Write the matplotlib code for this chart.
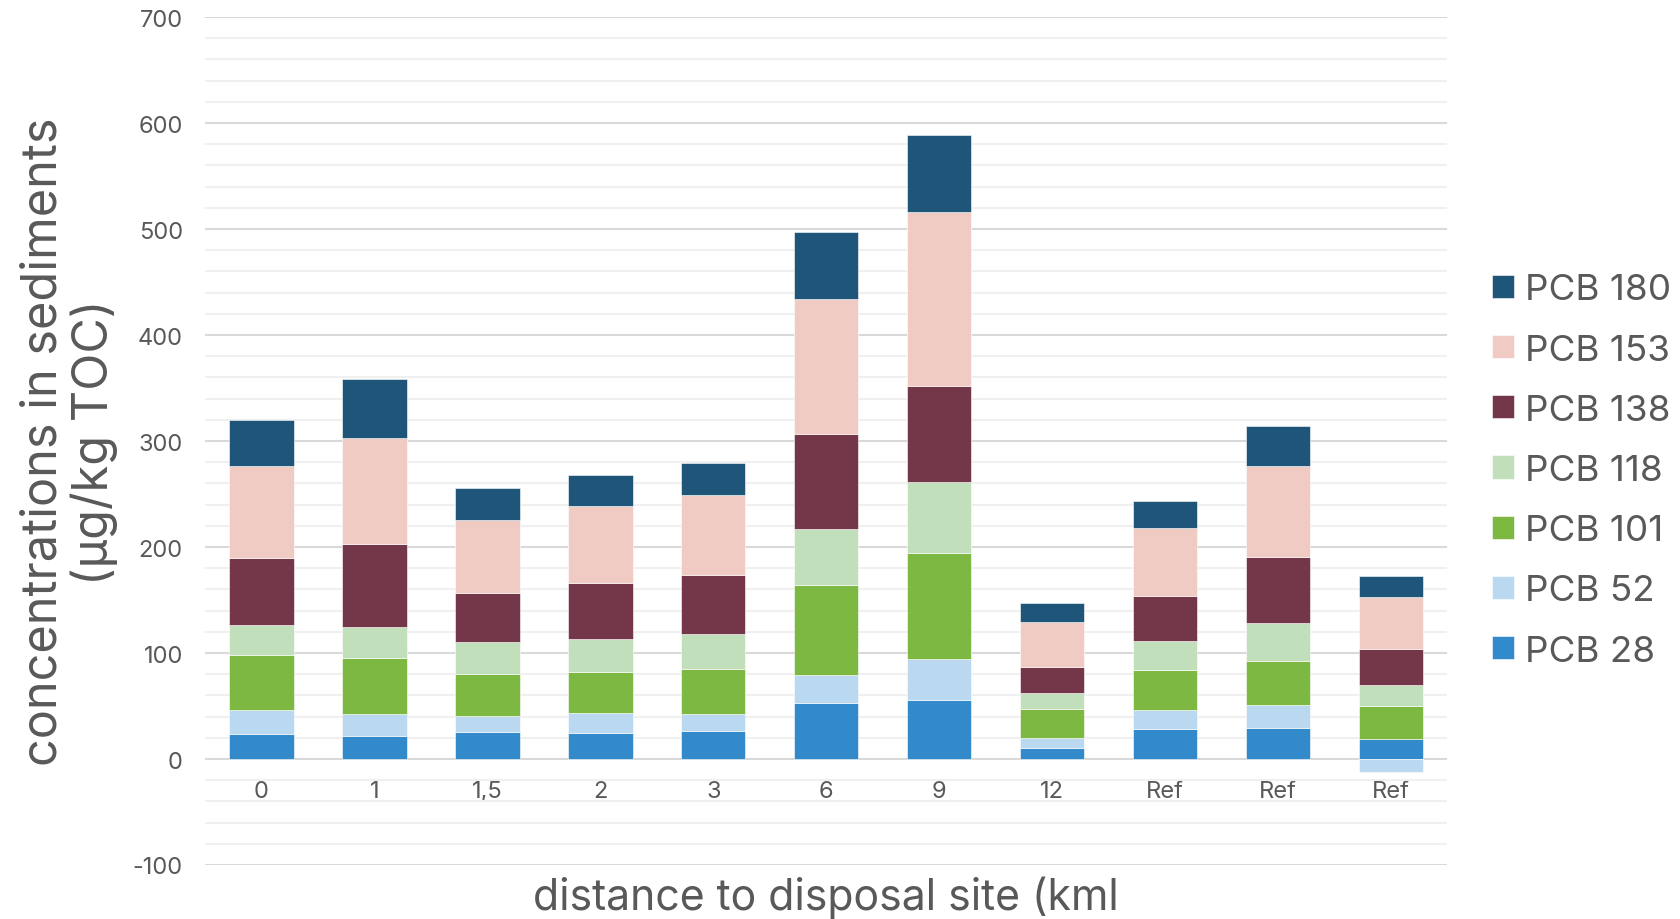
import numpy as np
import matplotlib
matplotlib.use('Agg')
import matplotlib.pyplot as plt
from matplotlib.ticker import MultipleLocator

plt.rcParams['font.family'] = ['Inter', 'DejaVu Sans']
plt.rcParams['axes.unicode_minus'] = False

categories = ['0', '1', '1,5', '2', '3', '6', '9', '12', 'Ref', 'Ref', 'Ref']
series_names = ['PCB 28', 'PCB 52', 'PCB 101', 'PCB 118', 'PCB 138', 'PCB 153', 'PCB 180']
pcb28 = [24, 21.5, 25.5, 25, 26, 53, 56, 10, 28, 29, 19]
pcb52 = [22, 21, 15, 18, 16.5, 26.5, 38, 10, 18, 21.5, -12]
pcb101 = [52, 52.5, 40, 39, 42, 84.5, 100, 27, 38, 42, 31]
pcb118 = [28, 29.5, 30, 31.5, 33, 53, 67, 15, 27.5, 36, 20]
pcb138 = [64, 78, 46.5, 53, 56, 90, 91, 25, 42.5, 62.5, 34]
pcb153 = [86, 100, 68.5, 72, 75.5, 127, 164, 42, 63.5, 85, 49]
pcb180 = [44, 56, 30, 29, 30, 63.5, 73, 18, 26, 38.5, 20]

colors = ['#338acb', '#bbd8f1', '#7cb842', '#c2dfbb', '#74374a', '#f0cbc4', '#1f5579']
TXT = '#595959'

fig = plt.figure(figsize=(16.81, 9.2), dpi=100)
ax = fig.add_axes([0.122, 0.0587, 0.739, 0.9217])

x = np.arange(len(categories))
pos_bottom = np.zeros(len(categories))
neg_bottom = np.zeros(len(categories))
for name, vals, col in zip(series_names,
                           [pcb28, pcb52, pcb101, pcb118, pcb138, pcb153, pcb180],
                           colors):
    v = np.array(vals, dtype=float)
    # excel stacks negatives below zero separately
    bottom = np.where(v >= 0, pos_bottom, neg_bottom)
    ax.bar(x, v, width=0.57, bottom=bottom, color=col, label=name,
           edgecolor='white', linewidth=0.4, zorder=3)
    pos_bottom += np.where(v >= 0, v, 0)
    neg_bottom += np.where(v < 0, v, 0)

ax.set_xlim(-0.5, len(categories) - 0.5)
ax.set_ylim(-100, 700)
ax.yaxis.set_major_locator(MultipleLocator(100))
ax.yaxis.set_minor_locator(MultipleLocator(20))
ax.grid(True, which='major', axis='y', color='#d9d9d9', linewidth=1.5, zorder=0)
ax.grid(True, which='minor', axis='y', color='#f0f0f0', linewidth=1.5, zorder=0)
ax.set_axisbelow(True)

for s in ax.spines.values():
    s.set_visible(False)
ax.spines['bottom'].set_position(('data', 0))

ax.set_xticks(x)
ax.set_xticklabels(categories)
ax.tick_params(axis='x', length=0, pad=15, labelsize=17, labelcolor=TXT)
ax.tick_params(axis='y', which='both', length=0, pad=16, labelsize=17, labelcolor=TXT)

ax.set_ylabel('concentrations in sediments\n(µg/kg TOC)', fontsize=35, color=TXT,
              linespacing=1.1)
ax.yaxis.set_label_coords(-0.070, 0.5)
ax.set_xlabel('distance to disposal site (kml', fontsize=30.8, color=TXT)
ax.xaxis.set_label_coords(0.5, -0.012)
ax.xaxis.label.set_va('top')

handles, labels = ax.get_legend_handles_labels()
leg = ax.legend(handles[::-1], labels[::-1], loc='center left',
                bbox_to_anchor=(0.8876, 0.4875), bbox_transform=fig.transFigure,
                frameon=False, fontsize=26.5, handlelength=0.6, handleheight=0.6,
                handletextpad=0.3, labelspacing=0.74, borderaxespad=0, borderpad=0)
for t in leg.get_texts():
    t.set_color(TXT)

fig.savefig('out.png', dpi=100)
